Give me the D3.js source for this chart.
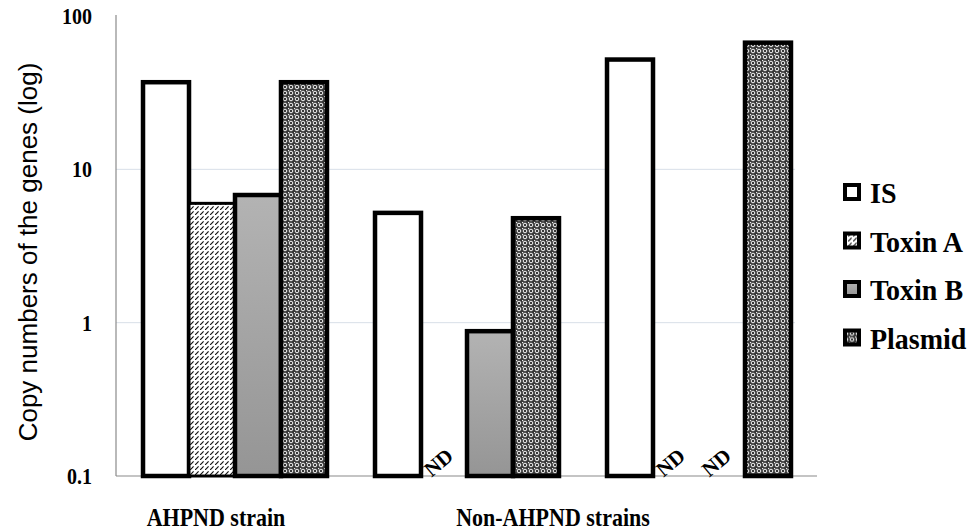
<!DOCTYPE html>
<html lang="en">
<head>
<meta charset="UTF-8">
<title>Copy numbers of the genes</title>
<script src="https://d3js.org/d3.v7.min.js"></script>
<style>
  body { margin: 0; background: #fff; }
  .serif { font-family: "Liberation Serif", "DejaVu Serif", "Times New Roman", Times, serif; font-weight: bold; fill: #000; }
  .ytitle { font-family: "Liberation Sans", Arial, sans-serif; font-size: 26px; fill: #000; }
  .grid { stroke: #d8dfe8; stroke-width: 1; }
  .axis-line { stroke: #8a8a8a; stroke-width: 1.2; }
</style>
</head>
<body>
<div id="chart"></div>
<script>

// data (null = not detected)
var groups = ["AHPND strain", "Non-AHPND 1", "Non-AHPND 2"];
var series = ["IS", "Toxin A", "Toxin B", "Plasmid"];
var isCopies = [37, 5.2, 52];
var toxinACopies = [6.0, null, null];
var toxinBCopies = [6.8, 0.88, null];
var plasmidCopies = [37, 4.8, 67];
var yTicks = [0.1, 1, 10, 100];
var gridTicks = [1, 10];
var groupLabels = ["AHPND strain", "Non-AHPND strains"];

var values = [isCopies, toxinACopies, toxinBCopies, plasmidCopies];

var width = 973, height = 532;
var plot = {left: 116, right: 817, top: 16, bottom: 476};
var stretch = 1.14; // the figure's serif text is a bit taller than wide

var svg = d3.select("#chart").append("svg")
    .attr("width", width)
    .attr("height", height);

// fills
var defs = svg.append("defs");

var hatch = defs.append("pattern")
    .attr("id", "hatch")
    .attr("patternUnits", "userSpaceOnUse")
    .attr("width", 5).attr("height", 5);
hatch.append("rect").attr("width", 5).attr("height", 5).attr("fill", "#fff");
hatch.append("path").attr("d", "M0,5 L3.6,1.4").attr("stroke", "#111").attr("stroke-width", 1.2);

var dots = defs.append("pattern")
    .attr("id", "dots")
    .attr("patternUnits", "userSpaceOnUse")
    .attr("width", 6).attr("height", 6);
dots.append("rect").attr("width", 6).attr("height", 6).attr("fill", "#3a3a3a");
dots.append("circle").attr("cx", 3).attr("cy", 3).attr("r", 1.8)
    .attr("fill", "none").attr("stroke", "#f4f4f4").attr("stroke-width", 1);
dots.append("rect").attr("x", 0).attr("y", 0).attr("width", 1.2).attr("height", 1.2).attr("fill", "#eee");

var grad = defs.append("linearGradient")
    .attr("id", "grayfade")
    .attr("x1", 0).attr("y1", 0).attr("x2", 0).attr("y2", 1);
grad.append("stop").attr("offset", "0%").attr("stop-color", "#b3b3b3");
grad.append("stop").attr("offset", "100%").attr("stop-color", "#959595");

var fills = {"IS": "#fff", "Toxin A": "url(#hatch)", "Toxin B": "url(#grayfade)", "Plasmid": "url(#dots)"};
var strokes = {"IS": 4.5, "Toxin A": 3, "Toxin B": 4.5, "Plasmid": 4.5};

// scales
var y = d3.scaleLog().domain([0.1, 100]).range([plot.bottom, plot.top]);

var x0 = d3.scaleBand()
    .domain(groups)
    .range([119, 815])
    .paddingInner(0.207)
    .paddingOuter(0.1035);

var x1 = d3.scaleBand()
    .domain(series)
    .range([0, x0.bandwidth()]);

// gridlines
svg.selectAll(".grid")
    .data(gridTicks)
    .enter().append("line")
    .attr("class", "grid")
    .attr("x1", plot.left).attr("x2", 795)
    .attr("y1", function(d) { return y(d); })
    .attr("y2", function(d) { return y(d); });

// axis lines
svg.append("line").attr("class", "axis-line")
    .attr("x1", plot.left).attr("x2", plot.left)
    .attr("y1", plot.top - 1).attr("y2", plot.bottom);
svg.append("line").attr("class", "axis-line")
    .attr("x1", plot.left).attr("x2", plot.right)
    .attr("y1", plot.bottom).attr("y2", plot.bottom);

// y tick labels
svg.selectAll(".ytick")
    .data(yTicks)
    .enter().append("text")
    .attr("class", "serif")
    .attr("font-size", 20)
    .attr("text-anchor", "end")
    .attr("transform", function(d) { return "translate(92," + (y(d) + 8) + ") scale(1," + stretch + ")"; })
    .text(function(d) { return d; });

// y title
svg.append("text")
    .attr("class", "ytitle")
    .attr("text-anchor", "middle")
    .attr("transform", "translate(37,252) rotate(-90)")
    .text("Copy numbers of the genes (log)");

// bars
var cells = [];
groups.forEach(function(g, gi) {
  series.forEach(function(s, si) {
    cells.push({group: g, series: s, value: values[si][gi]});
  });
});

var gBars = svg.append("g");

gBars.selectAll("rect")
    .data(cells.filter(function(d) { return d.value != null; }))
    .enter().append("rect")
    .attr("x", function(d) { return x0(d.group) + x1(d.series); })
    .attr("width", x1.bandwidth())
    .attr("y", function(d) { return y(d.value); })
    .attr("height", function(d) { return y(0.1) - y(d.value); })
    .attr("fill", function(d) { return fills[d.series]; })
    .attr("stroke", "#000")
    .attr("stroke-width", function(d) { return strokes[d.series]; });

// not detected
gBars.selectAll(".nd")
    .data(cells.filter(function(d) { return d.value == null; }))
    .enter().append("text")
    .attr("class", "serif")
    .attr("font-size", 21)
    .attr("text-anchor", "middle")
    .attr("transform", function(d) {
      var cx = x0(d.group) + x1(d.series) + x1.bandwidth() / 2;
      return "translate(" + (cx - 1) + ",468) rotate(-40)";
    })
    .text("ND");

// group labels
var labelX = [
  x0(groups[0]) + x0.bandwidth() / 2 - 19,
  (x0(groups[1]) + x0(groups[2]) + x0.bandwidth()) / 2 - 30
];
svg.selectAll(".glabel")
    .data(groupLabels)
    .enter().append("text")
    .attr("class", "serif")
    .attr("font-size", 22)
    .attr("text-anchor", "middle")
    .attr("transform", function(d, i) { return "translate(" + labelX[i] + ",526) scale(1," + stretch + ")"; })
    .text(function(d) { return d; });

// legend
var legend = svg.selectAll(".legend")
    .data(series)
    .enter().append("g")
    .attr("transform", function(d, i) { return "translate(843," + (203 + i * 48.5) + ")"; });

legend.append("rect")
    .attr("x", 2).attr("y", -18)
    .attr("width", 14).attr("height", 14)
    .attr("fill", function(d) { return fills[d]; })
    .attr("stroke", "#000")
    .attr("stroke-width", 4);

legend.append("text")
    .attr("class", "serif")
    .attr("font-size", 28)
    .attr("transform", "translate(27,0) scale(1,1.08)")
    .text(function(d) { return d; });

</script>
</body>
</html>
